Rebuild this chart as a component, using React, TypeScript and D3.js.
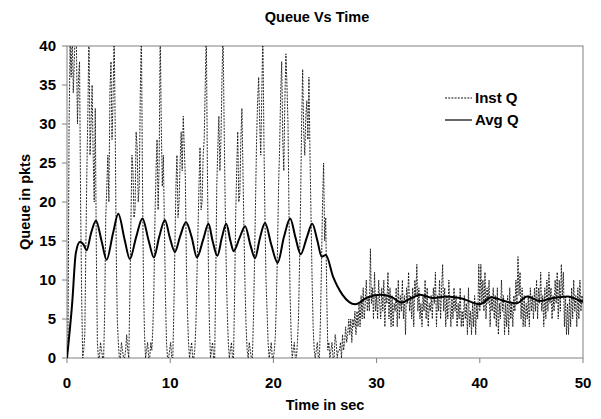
import React from 'react';
import * as d3 from 'd3';

// axis ticks
const yTicks = [0, 5, 10, 15, 20, 25, 30, 35, 40];
const xTicks = [0, 10, 20, 30, 40, 50];

// Inst Q, first part (sampled every ~0.1 s)
const inst1Start = 0.1;
const inst1Step = 0.1015;
const instQ1 = [
  2, 30, 40, 36, 42, 34, 38, 43, 40, 30,
  36, 38, 20, 8, 0, 1, 3, 14, 24, 32,
  42, 26, 30, 35, 26, 20, 32, 14, 2, 0,
  0, 2, 1, 0, 0, 6, 18, 22, 26, 20,
  34, 38, 28, 33, 42, 30, 14, 5, 2, 0,
  0, 2, 1, 0, 0, 1, 3, 1, 0, 8,
  17, 26, 24, 18, 19, 29, 27, 20, 22, 34,
  42, 24, 10, 3, 0, 1, 2, 0, 0, 2,
  1, 4, 9, 18, 24, 28, 19, 25, 42, 30,
  22, 26, 17, 8, 2, 0, 0, 1, 2, 0,
  0, 6, 14, 22, 26, 18, 20, 25, 29, 24,
  31, 27, 23, 12, 6, 2, 0, 1, 2, 0,
  0, 1, 4, 10, 16, 22, 27, 19, 20, 26,
  28, 35, 42, 25, 12, 4, 0, 1, 2, 0,
  0, 10, 22, 27, 31, 24, 28, 36, 42, 30,
  20, 12, 6, 2, 0, 1, 2, 0, 0, 8,
  18, 24, 29, 20, 21, 28, 32, 24, 16, 9,
  4, 1, 0, 2, 1, 0, 0, 5, 12, 20,
  28, 33, 36, 30, 26, 34, 42, 28, 18, 10,
  6, 2, 0, 1, 2, 0, 0, 1, 3, 8,
  14, 22, 27, 34, 38, 28, 24, 33, 39, 35,
  30, 18, 8, 3, 0, 1, 2, 0, 0, 2,
  5, 12, 20, 30, 37, 29, 26, 31, 33, 28,
  36, 26, 18, 10, 4, 1, 0, 1, 2, 0,
  0, 5, 12, 20, 25, 15, 18, 8, 1, 2,
  0, 1, 2, 0, 0, 3, 2, 0, 1,
];

// Inst Q, second part (sampled every 0.1 s)
const inst2Start = 26.4;
const inst2Step = 0.1;
const instQ2 = [
  1, 2, 0, 3, 1, 2, 4, 2, 3, 5,
  3, 5, 2, 5, 4, 6, 3, 6, 4, 7,
  4, 8, 5, 9, 5, 7, 10, 6, 8, 6,
  14, 7, 9, 5, 11, 6, 8, 5, 10, 7,
  5, 9, 6, 10, 4, 8, 7, 11, 5, 9,
  4, 8, 4, 7, 6, 9, 4, 10, 5, 8,
  6, 10, 5, 8, 3, 9, 7, 11, 6, 8,
  5, 9, 4, 10, 8, 12, 6, 9, 5, 7,
  4, 8, 6, 10, 5, 9, 4, 7, 6, 8,
  5, 9, 7, 11, 4, 8, 6, 10, 5, 9,
  12, 6, 9, 4, 8, 5, 10, 7, 4, 8,
  5, 9, 6, 8, 4, 7, 5, 9, 4, 6,
  4, 8, 5, 7, 3, 9, 4, 6, 3, 7,
  4, 8, 3, 7, 5, 12, 6, 12, 7, 10,
  6, 11, 5, 9, 7, 10, 4, 8, 6, 9,
  5, 8, 4, 9, 3, 7, 5, 10, 6, 8,
  3, 7, 4, 8, 3, 9, 5, 7, 4, 8,
  6, 10, 7, 13, 8, 11, 5, 9, 4, 8,
  4, 7, 5, 8, 4, 9, 6, 8, 5, 9,
  6, 10, 5, 9, 7, 11, 6, 8, 4, 9,
  5, 10, 6, 11, 7, 9, 5, 8, 6, 10,
  7, 11, 5, 10, 6, 12, 8, 11, 4, 8,
  3, 7, 3, 8, 4, 9, 5, 10, 6, 8,
  4, 9, 5, 10, 6, 8, 7,
];

// Avg Q [time, value]
const avgQ: [number, number][] = [
  [0, 0], [0.5, 7], [0.86, 13.5], [1.27, 14.9], [1.62, 14.5], [1.9, 13.8],
  [2.33, 16], [2.81, 17.6], [3.35, 15], [3.84, 12.6], [4.46, 16], [4.97, 18.5],
  [5.58, 15.2], [6.09, 12.7], [6.7, 15.5], [7.31, 17.9], [7.92, 15], [8.42, 12.9],
  [8.93, 15.5], [9.49, 17.7], [9.95, 15.5], [10.46, 13.6], [10.96, 15.6], [11.53, 17.4],
  [12.08, 15.5], [12.59, 12.9], [13.2, 15.2], [13.71, 17.2], [14.11, 15], [14.57, 13.1],
  [15.02, 15.5], [15.43, 17.2], [15.84, 15], [16.14, 13.7], [16.75, 15.5], [17.26, 16.9],
  [17.77, 14.5], [18.22, 12.8], [18.68, 15.3], [19.19, 17.3], [19.8, 14.5], [20.41, 12.2],
  [21.02, 15.5], [21.63, 17.9], [22.13, 15.5], [22.64, 13.3], [23.25, 15.5], [23.76, 17.2],
  [24.27, 15], [24.67, 13], [25.08, 13.2], [25.79, 10.4], [26.7, 8.1], [27.92, 6.9],
  [29.04, 7.7], [30.36, 8.1], [31.48, 7.8], [32.39, 7.1], [33.4, 7.7], [34.22, 8.1],
  [35.44, 7.7], [36.76, 7.9], [38.08, 7.7], [40.01, 6.9], [41.12, 7.8], [42.14, 7.4],
  [43.56, 7.0], [44.58, 7.9], [45.79, 7.3], [47.12, 7.7], [48.54, 7.9], [49.75, 7.3],
  [50, 7.2],
];

const FONT = '"Liberation Sans", Arial, sans-serif';
const AXIS = '#808080';

export default function App() {
  const W = 601;
  const H = 419;
  const left = 67, right = 583, top = 46, bottom = 358;

  const x = d3.scaleLinear().domain([0, 50]).range([left, right]);
  const y = d3.scaleLinear().domain([0, 40]).range([bottom, top]);

  const instPts: [number, number][] = [
    ...instQ1.map((v, i) => [inst1Start + i * inst1Step, v] as [number, number]),
    ...instQ2.map((v, i) => [inst2Start + i * inst2Step, v] as [number, number]),
  ];

  const line = d3.line<[number, number]>()
    .x(d => x(d[0]))
    .y(d => y(d[1]));

  const avgLine = d3.line<[number, number]>()
    .x(d => x(d[0]))
    .y(d => y(d[1]))
    .curve(d3.curveMonotoneX);

  return (
    <svg width={W} height={H} style={{ position: 'absolute', left: 0, top: 0, background: '#fff' }}
      fontFamily={FONT} fontWeight="bold">
      <defs>
        <clipPath id="plot">
          <rect x={left} y={top} width={right - left} height={bottom - top} />
        </clipPath>
      </defs>

      <text x={317} y={22} textAnchor="middle" fontSize={14.5}>Queue Vs Time</text>

      {/* frame */}
      <rect x={left} y={top} width={right - left} height={bottom - top} fill="none" stroke={AXIS} strokeWidth={1} />

      {/* y axis */}
      {yTicks.map(t => (
        <g key={'y' + t}>
          <line x1={left - 5} x2={left} y1={y(t)} y2={y(t)} stroke={AXIS} />
          <text x={left - 11} y={y(t)} dy="0.35em" textAnchor="end" fontSize={15}>{t}</text>
        </g>
      ))}

      {/* x axis */}
      {xTicks.map(t => (
        <g key={'x' + t}>
          <line x1={x(t)} x2={x(t)} y1={bottom} y2={bottom + 5} stroke={AXIS} />
          <text x={x(t)} y={bottom + 25} dy="0.35em" textAnchor="middle" fontSize={15}>{t}</text>
        </g>
      ))}

      <text x={(left + right) / 2} y={410} textAnchor="middle" fontSize={14.5}>Time in sec</text>
      <text transform={`translate(25,${(top + bottom) / 2}) rotate(-90)`} textAnchor="middle" dy="0.35em" fontSize={14.5}>Queue in pkts</text>

      <g clipPath="url(#plot)">
        <path d={line(instPts) || ''} fill="none" stroke="#111" strokeWidth={0.9} strokeDasharray="2 1.2" />
        <path d={avgLine(avgQ) || ''} fill="none" stroke="#000" strokeWidth={2} />
      </g>

      {/* legend */}
      <line x1={445} x2={472} y1={98} y2={98} stroke="#111" strokeWidth={1} strokeDasharray="2 1.2" />
      <text x={475} y={98} dy="0.35em" fontSize={15}>Inst Q</text>
      <line x1={445} x2={472} y1={120} y2={120} stroke="#000" strokeWidth={1.2} />
      <text x={475} y={120} dy="0.35em" fontSize={15}>Avg Q</text>
    </svg>
  );
}
